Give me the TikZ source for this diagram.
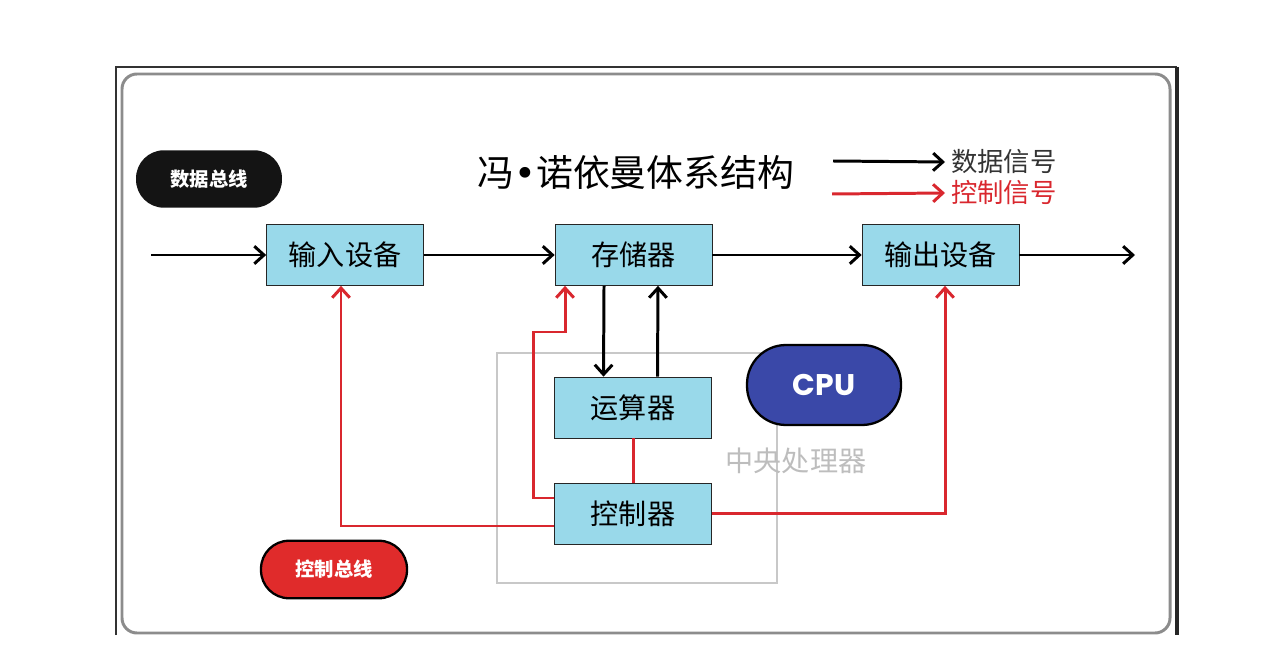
\documentclass[tikz,border=0pt]{standalone}
\usepackage{fontspec}
\setmainfont{Noto Sans CJK SC}
\newfontfamily\cpufont{Poppins}
\newfontfamily\dotfont{DejaVu Sans}
\usetikzlibrary{arrows.meta}
\definecolor{boxblue}{HTML}{99D9EA}
\definecolor{sigred}{HTML}{D9272E}
\definecolor{busred}{HTML}{E02B2B}
\definecolor{cpublue}{HTML}{3A48A8}
\definecolor{framegray}{HTML}{8C8C8C}
\definecolor{cpugray}{HTML}{C8C8C8}
\definecolor{labelgray}{HTML}{BDBDBD}

\begin{document}
\begin{tikzpicture}[
        x=0.02cm, y=-0.02cm, % 像素坐标, y 向下
        >={Straight Barb[length=5.5pt,width=10pt]},
        unit/.style={draw=black!85, fill=boxblue, minimum width=3.14cm, minimum height=1.22cm,
                font=\fontsize{16pt}{18pt}\selectfont}, % 部件方框
        datasig/.style={draw=black, line width=1.7pt, ->},
        ctrlsig/.style={draw=sigred, line width=1.7pt},
        bus/.style={rectangle, rounded corners=0.56cm, minimum width=2.92cm, minimum height=1.15cm,
                text=white, font=\bfseries\fontsize{11pt}{13pt}\selectfont},
    ]
    \useasboundingbox (0,0) rectangle (1271,658);

    % 外框
    \draw[black!80, line width=0.6pt] (116,635) -- (116,67) -- (1177,67);
    \draw[black!85, line width=1.8pt] (1177,67) -- (1177,635);
    \draw[framegray, line width=1.7pt, rounded corners=0.3cm] (122,74) rectangle (1170,633);

    \node[bus, fill=black!92] (databus) at (209,179) {数据总线};
    \node[bus, fill=busred, draw=black, line width=1.3pt] (ctrlbus) at (334,569.5) {控制总线};
    \node (title) at (636,173) {\fontsize{21pt}{24pt}\selectfont 冯{\dotfont•}诺依曼体系结构};

    % 图例
    \coordinate (datastart) at (833,161);
    \coordinate (ctrlstart) at (832,194);
    \node[anchor=west, text=black!80, font=\fontsize{15pt}{18pt}\selectfont] (datalabel) at (945,162) {数据信号};
    \node[anchor=west, text=sigred, font=\fontsize{15pt}{18pt}\selectfont] (ctrllabel) at (945,193) {控制信号};
    \draw[datasig] (datastart) -- (datalabel.west);
    \draw[ctrlsig, ->] (ctrlstart) -- (ctrllabel.west);

    % CPU 区域
    \draw[cpugray, line width=1.2pt] (497,353) rectangle (777,583);
    \node[text=labelgray, font=\fontsize{16pt}{18pt}\selectfont] (cpulabel) at (796,461) {中央处理器};

    \node[unit] (in) at (345,255) {输入设备};
    \node[unit] (mem) at (633.5,255) {存储器};
    \node[unit] (out) at (940.5,255) {输出设备};
    \node[unit] (alu) at (633,407.5) {运算器};
    \node[unit] (ctl) at (633,513.5) {控制器};

    \node[rectangle, rounded corners=0.78cm, draw=black, line width=1.3pt, fill=cpublue, text=white,
        minimum width=3.08cm, minimum height=1.6cm,
        font=\cpufont\bfseries\fontsize{17pt}{20pt}\selectfont] (cpu) at (824,385) {CPU};

    % 数据信号
    \coordinate (datain) at (151,255);
    \coordinate (dataout) at (1135,255);
    \draw[datasig] (datain) -- (in);
    \draw[datasig] (in) -- (mem);
    \draw[datasig] (mem) -- (out);
    \draw[datasig] (out) -- (dataout);
    \draw[datasig] ([xshift=-0.59cm]mem.south) -- ([xshift=-0.59cm]alu.north);
    \draw[datasig] ([xshift=0.49cm]alu.north) -- ([xshift=0.49cm]mem.south);

    % 控制信号
    \draw[ctrlsig] (ctl) -- (alu);
    \draw[ctrlsig, ->] ([yshift=0.31cm]ctl.west) -| (533,332) -| ([xshift=-1.37cm]mem.south);
    \draw[ctrlsig, ->] ([yshift=-0.25cm]ctl.west) -| ([xshift=-0.08cm]in.south);
    \draw[ctrlsig, ->] (ctl.east) -| ([xshift=0.09cm]out.south);
\end{tikzpicture}
\end{document}
